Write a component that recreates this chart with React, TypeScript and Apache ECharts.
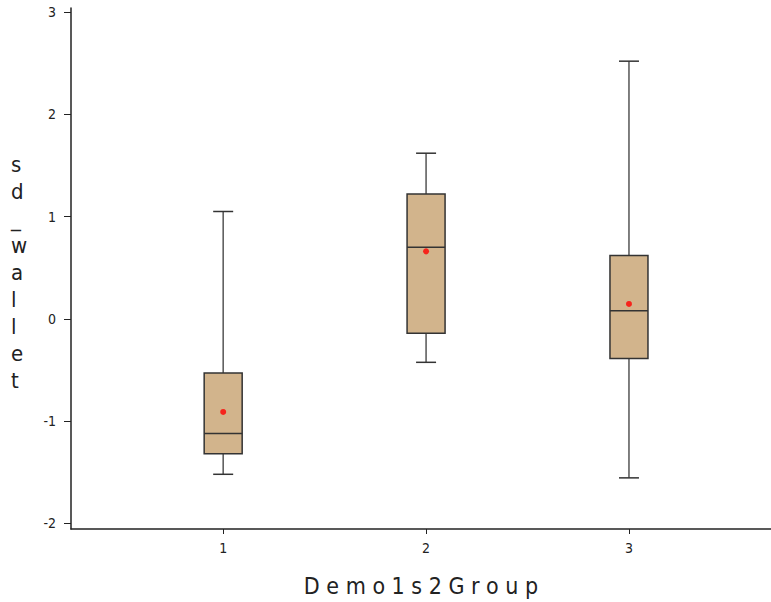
import React, { useEffect, useRef } from "react";
import * as echarts from "echarts";

const groups = [1, 2, 3];
const mins = [-1.52, -0.425, -1.555];
const q1s = [-1.32, -0.14, -0.387];
const medians = [-1.12, 0.7, 0.08];
const q3s = [-0.53, 1.22, 0.62];
const maxs = [1.05, 1.62, 2.52];
const means = [-0.91, 0.66, 0.146];
const yTicks = [-2, -1, 0, 1, 2, 3];
const xTicks = [1, 2, 3];
const xName = "Demo1s2Group";
const yName = "sd_wallet";

export default function App() {
  const ref = useRef<HTMLDivElement>(null);
  useEffect(() => {
    if (!ref.current) return;
    const chart = echarts.init(ref.current, undefined, { renderer: "svg" });
    const boxData = groups.map((g, i) => [g, mins[i], q1s[i], medians[i], q3s[i], maxs[i]]);
    const meanData = groups.map((g, i) => [g, means[i]]);
    const font = "'Liberation Sans Narrow', 'DejaVu Sans Condensed', sans-serif";
    chart.setOption({
      animation: false,
      backgroundColor: "#ffffff",
      grid: { left: 71, right: 0, top: 8, bottom: 71 },
      xAxis: {
        type: "value",
        min: 0.25,
        max: 3.7,
        splitLine: { show: false },
        axisLine: { onZero: false, lineStyle: { color: "#222", width: 1.5 } },
        axisTick: { show: true, length: 5, lineStyle: { color: "#222" }, customValues: xTicks },
        axisLabel: { customValues: xTicks, margin: 12, color: "#222", fontSize: 14, fontFamily: font },
        name: xName.split("").join(" "),
        nameLocation: "middle",
        nameGap: 45,
        nameTextStyle: { fontSize: 23, color: "#222", fontFamily: font },
      },
      yAxis: {
        type: "value",
        min: -2.055,
        max: 3.04,
        splitLine: { show: false },
        axisLine: { show: true, onZero: false, lineStyle: { color: "#222", width: 1.5 } },
        axisTick: { show: true, length: 7, lineStyle: { color: "#222" }, customValues: yTicks },
        axisLabel: { customValues: yTicks, margin: 15, color: "#222", fontSize: 14, fontFamily: font },
      },
      graphic: [
        {
          type: "text",
          left: 11,
          top: 151,
          style: {
            text: yName.split("").join("\n"),
            fontSize: 22,
            lineHeight: 27,
            fill: "#222",
            fontFamily: font,
            align: "center",
          },
        },
      ],
      series: [
        {
          type: "custom",
          data: boxData,
          encode: { x: 0, y: [1, 2, 3, 4, 5] },
          renderItem: (params: any, api: any) => {
            const x = api.value(0);
            const pMin = api.coord([x, api.value(1)]);
            const pQ1 = api.coord([x, api.value(2)]);
            const pMed = api.coord([x, api.value(3)]);
            const pQ3 = api.coord([x, api.value(4)]);
            const pMax = api.coord([x, api.value(5)]);
            const cx = pMin[0];
            const hw = 19;
            const cw = 10;
            const wStyle = { stroke: "#555", lineWidth: 1.5 };
            return {
              type: "group",
              children: [
                { type: "line", shape: { x1: cx, y1: pQ3[1], x2: cx, y2: pMax[1] }, style: wStyle },
                { type: "line", shape: { x1: cx, y1: pQ1[1], x2: cx, y2: pMin[1] }, style: wStyle },
                { type: "line", shape: { x1: cx - cw, y1: pMax[1], x2: cx + cw, y2: pMax[1] }, style: { stroke: "#333", lineWidth: 1.5 } },
                { type: "line", shape: { x1: cx - cw, y1: pMin[1], x2: cx + cw, y2: pMin[1] }, style: { stroke: "#333", lineWidth: 1.5 } },
                {
                  type: "rect",
                  shape: { x: cx - hw, y: pQ3[1], width: 2 * hw, height: pQ1[1] - pQ3[1] },
                  style: { fill: "#D2B48C", stroke: "#333", lineWidth: 1.5 },
                },
                { type: "line", shape: { x1: cx - hw, y1: pMed[1], x2: cx + hw, y2: pMed[1] }, style: { stroke: "#333", lineWidth: 1.5 } },
              ],
            };
          },
          z: 2,
        },
        {
          type: "scatter",
          data: meanData,
          symbol: "circle",
          symbolSize: 6,
          itemStyle: { color: "#ff0000" },
          z: 3,
        },
      ],
    });
    return () => chart.dispose();
  }, []);
  return <div ref={ref} style={{ position: "absolute", left: 0, top: 0, width: 771, height: 602 }} />;
}
